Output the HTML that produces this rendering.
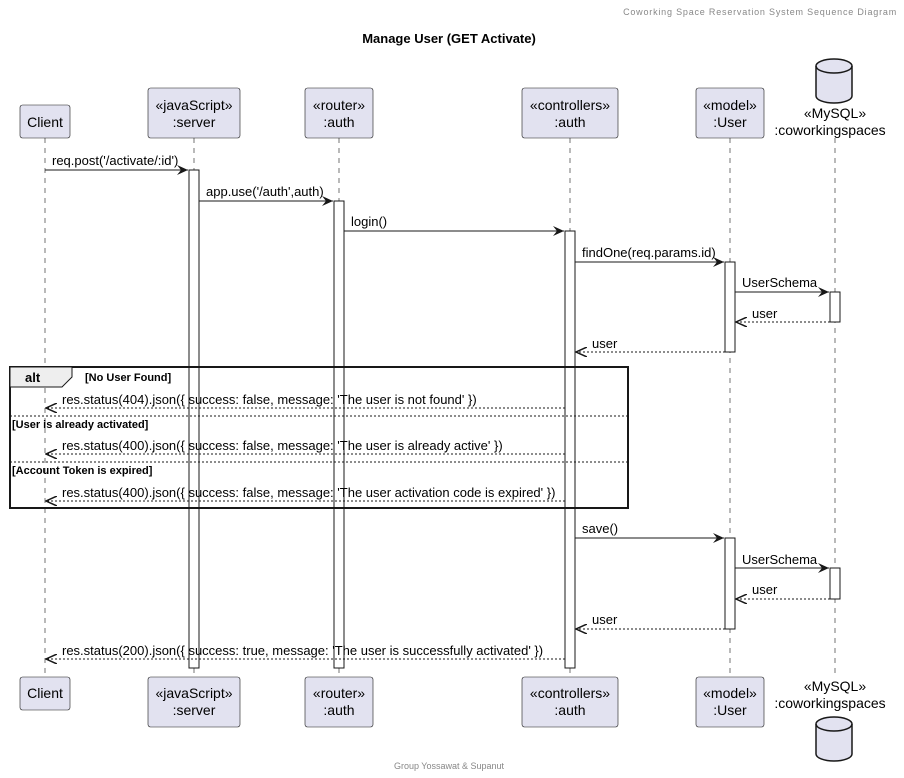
<!DOCTYPE html>
<html><head><meta charset="utf-8"><style>
html,body{margin:0;padding:0;background:#fff}
svg{display:block}
text{font-family:"Liberation Sans",sans-serif;fill:#000}
</style></head><body>
<svg width="904" height="778" viewBox="0 0 904 778" xmlns="http://www.w3.org/2000/svg">
<defs>
<marker id="a" markerWidth="12" markerHeight="10" refX="11" refY="5" orient="auto" markerUnits="userSpaceOnUse">
<path d="M0,0 L11,5 L0,10 L4,5 Z" fill="#181818"/></marker>
<marker id="o" markerWidth="12" markerHeight="10" refX="11" refY="5" orient="auto" markerUnits="userSpaceOnUse">
<path d="M0,0 L11,5 L0,10" fill="none" stroke="#181818" stroke-width="1.5"/></marker>
</defs>
<text x="897" y="15" text-anchor="end" font-size="9" style="fill:#888" letter-spacing="0.8">Coworking Space Reservation System Sequence Diagram</text>
<text x="449" y="43" text-anchor="middle" font-size="13" font-weight="bold">Manage User (GET Activate)</text>
<text x="449" y="769" text-anchor="middle" font-size="9" style="fill:#888">Group Yossawat &amp; Supanut</text>
<g stroke="#181818" stroke-width="0.6" stroke-dasharray="5,5">
<line x1="45" y1="138" x2="45" y2="677"/>
<line x1="194" y1="138" x2="194" y2="677"/>
<line x1="339" y1="138" x2="339" y2="677"/>
<line x1="570" y1="138" x2="570" y2="677"/>
<line x1="730" y1="138" x2="730" y2="677"/>
<line x1="835" y1="138" x2="835" y2="677"/>
</g>
<g fill="#e2e2f0" stroke="#181818" stroke-width="0.6">
<rect x="20" y="105" width="50" height="33" rx="2.5"/>
<rect x="148" y="88" width="92" height="50" rx="2.5"/>
<rect x="305" y="88" width="68" height="50" rx="2.5"/>
<rect x="522" y="88" width="96" height="50" rx="2.5"/>
<rect x="696" y="88" width="68" height="50" rx="2.5"/>
<rect x="20" y="677" width="50" height="33" rx="2.5"/>
<rect x="148" y="677" width="92" height="50" rx="2.5"/>
<rect x="305" y="677" width="68" height="50" rx="2.5"/>
<rect x="522" y="677" width="96" height="50" rx="2.5"/>
<rect x="696" y="677" width="68" height="50" rx="2.5"/>
</g>
<g font-size="14" text-anchor="middle">
<text x="45" y="127">Client</text>
<text x="194" y="110">«javaScript»</text><text x="194" y="127">:server</text>
<text x="339" y="110">«router»</text><text x="339" y="127">:auth</text>
<text x="570" y="110">«controllers»</text><text x="570" y="127">:auth</text>
<text x="730" y="110">«model»</text><text x="730" y="127">:User</text>
<text x="835" y="118">«MySQL»</text><text x="830" y="135">:coworkingspaces</text>
<text x="45" y="698">Client</text>
<text x="194" y="698">«javaScript»</text><text x="194" y="715">:server</text>
<text x="339" y="698">«router»</text><text x="339" y="715">:auth</text>
<text x="570" y="698">«controllers»</text><text x="570" y="715">:auth</text>
<text x="730" y="698">«model»</text><text x="730" y="715">:User</text>
<text x="835" y="691">«MySQL»</text><text x="830" y="708">:coworkingspaces</text>
</g>
<g fill="#e2e2f0" stroke="#181818" stroke-width="1.5">
<path d="M816,66 a18,7 0 0 1 36,0 v30 a18,7 0 0 1 -36,0 Z"/>
<path d="M816,66 a18,7 0 0 0 36,0" fill="none"/>
<path d="M816,724 a18,7 0 0 1 36,0 v30 a18,7 0 0 1 -36,0 Z"/>
<path d="M816,724 a18,7 0 0 0 36,0" fill="none"/>
</g>
<g fill="#fff" stroke="#181818" stroke-width="1">
<rect x="189" y="170" width="10" height="498"/>
<rect x="334" y="201" width="10" height="467"/>
<rect x="565" y="231" width="10" height="437"/>
<rect x="725" y="262" width="10" height="90"/>
<rect x="830" y="292" width="10" height="30"/>
<rect x="725" y="538" width="10" height="91"/>
<rect x="830" y="568" width="10" height="31"/>
</g>
<rect x="10" y="367" width="618" height="141" fill="none" stroke="#181818" stroke-width="2"/>
<path d="M10,367 H72 V377 L62,387 H10 Z" fill="#eee" stroke="#181818" stroke-width="1"/>
<text x="25" y="382" font-size="13" font-weight="bold">alt</text>
<text x="85" y="381" font-size="11" font-weight="bold">[No User Found]</text>
<line x1="10" y1="416" x2="628" y2="416" stroke="#181818" stroke-dasharray="2,2" stroke-width="1"/>
<text x="12" y="428" font-size="11" font-weight="bold">[User is already activated]</text>
<line x1="10" y1="462" x2="628" y2="462" stroke="#181818" stroke-dasharray="2,2" stroke-width="1"/>
<text x="12" y="474" font-size="11" font-weight="bold">[Account Token is expired]</text>
<g stroke="#181818" stroke-width="1" fill="none">
<line x1="45" y1="170" x2="188" y2="170" marker-end="url(#a)"/>
<line x1="199" y1="201" x2="333" y2="201" marker-end="url(#a)"/>
<line x1="344" y1="231" x2="564" y2="231" marker-end="url(#a)"/>
<line x1="575" y1="262" x2="724" y2="262" marker-end="url(#a)"/>
<line x1="735" y1="292" x2="829" y2="292" marker-end="url(#a)"/>
<line x1="575" y1="538" x2="724" y2="538" marker-end="url(#a)"/>
<line x1="735" y1="568" x2="829" y2="568" marker-end="url(#a)"/>
<g stroke-dasharray="2,2">
<line x1="830" y1="322" x2="736" y2="322" marker-end="url(#o)"/>
<line x1="725" y1="352" x2="576" y2="352" marker-end="url(#o)"/>
<line x1="565" y1="408" x2="46" y2="408" marker-end="url(#o)"/>
<line x1="565" y1="454" x2="46" y2="454" marker-end="url(#o)"/>
<line x1="565" y1="501" x2="46" y2="501" marker-end="url(#o)"/>
<line x1="830" y1="599" x2="736" y2="599" marker-end="url(#o)"/>
<line x1="725" y1="629" x2="576" y2="629" marker-end="url(#o)"/>
<line x1="565" y1="659" x2="46" y2="659" marker-end="url(#o)"/>
</g>
</g>
<g font-size="13">
<text x="52" y="165">req.post('/activate/:id')</text>
<text x="206" y="196">app.use('/auth',auth)</text>
<text x="351" y="226">login()</text>
<text x="582" y="257">findOne(req.params.id)</text>
<text x="742" y="287">UserSchema</text>
<text x="752" y="318">user</text>
<text x="592" y="348">user</text>
<text x="62" y="404">res.status(404).json({ success: false, message: 'The user is not found' })</text>
<text x="62" y="450">res.status(400).json({ success: false, message: 'The user is already active' })</text>
<text x="62" y="497">res.status(400).json({ success: false, message: 'The user activation code is expired' })</text>
<text x="582" y="533">save()</text>
<text x="742" y="564">UserSchema</text>
<text x="752" y="594">user</text>
<text x="592" y="624">user</text>
<text x="62" y="655">res.status(200).json({ success: true, message: 'The user is successfully activated' })</text>
</g>
</svg>
</body></html>
